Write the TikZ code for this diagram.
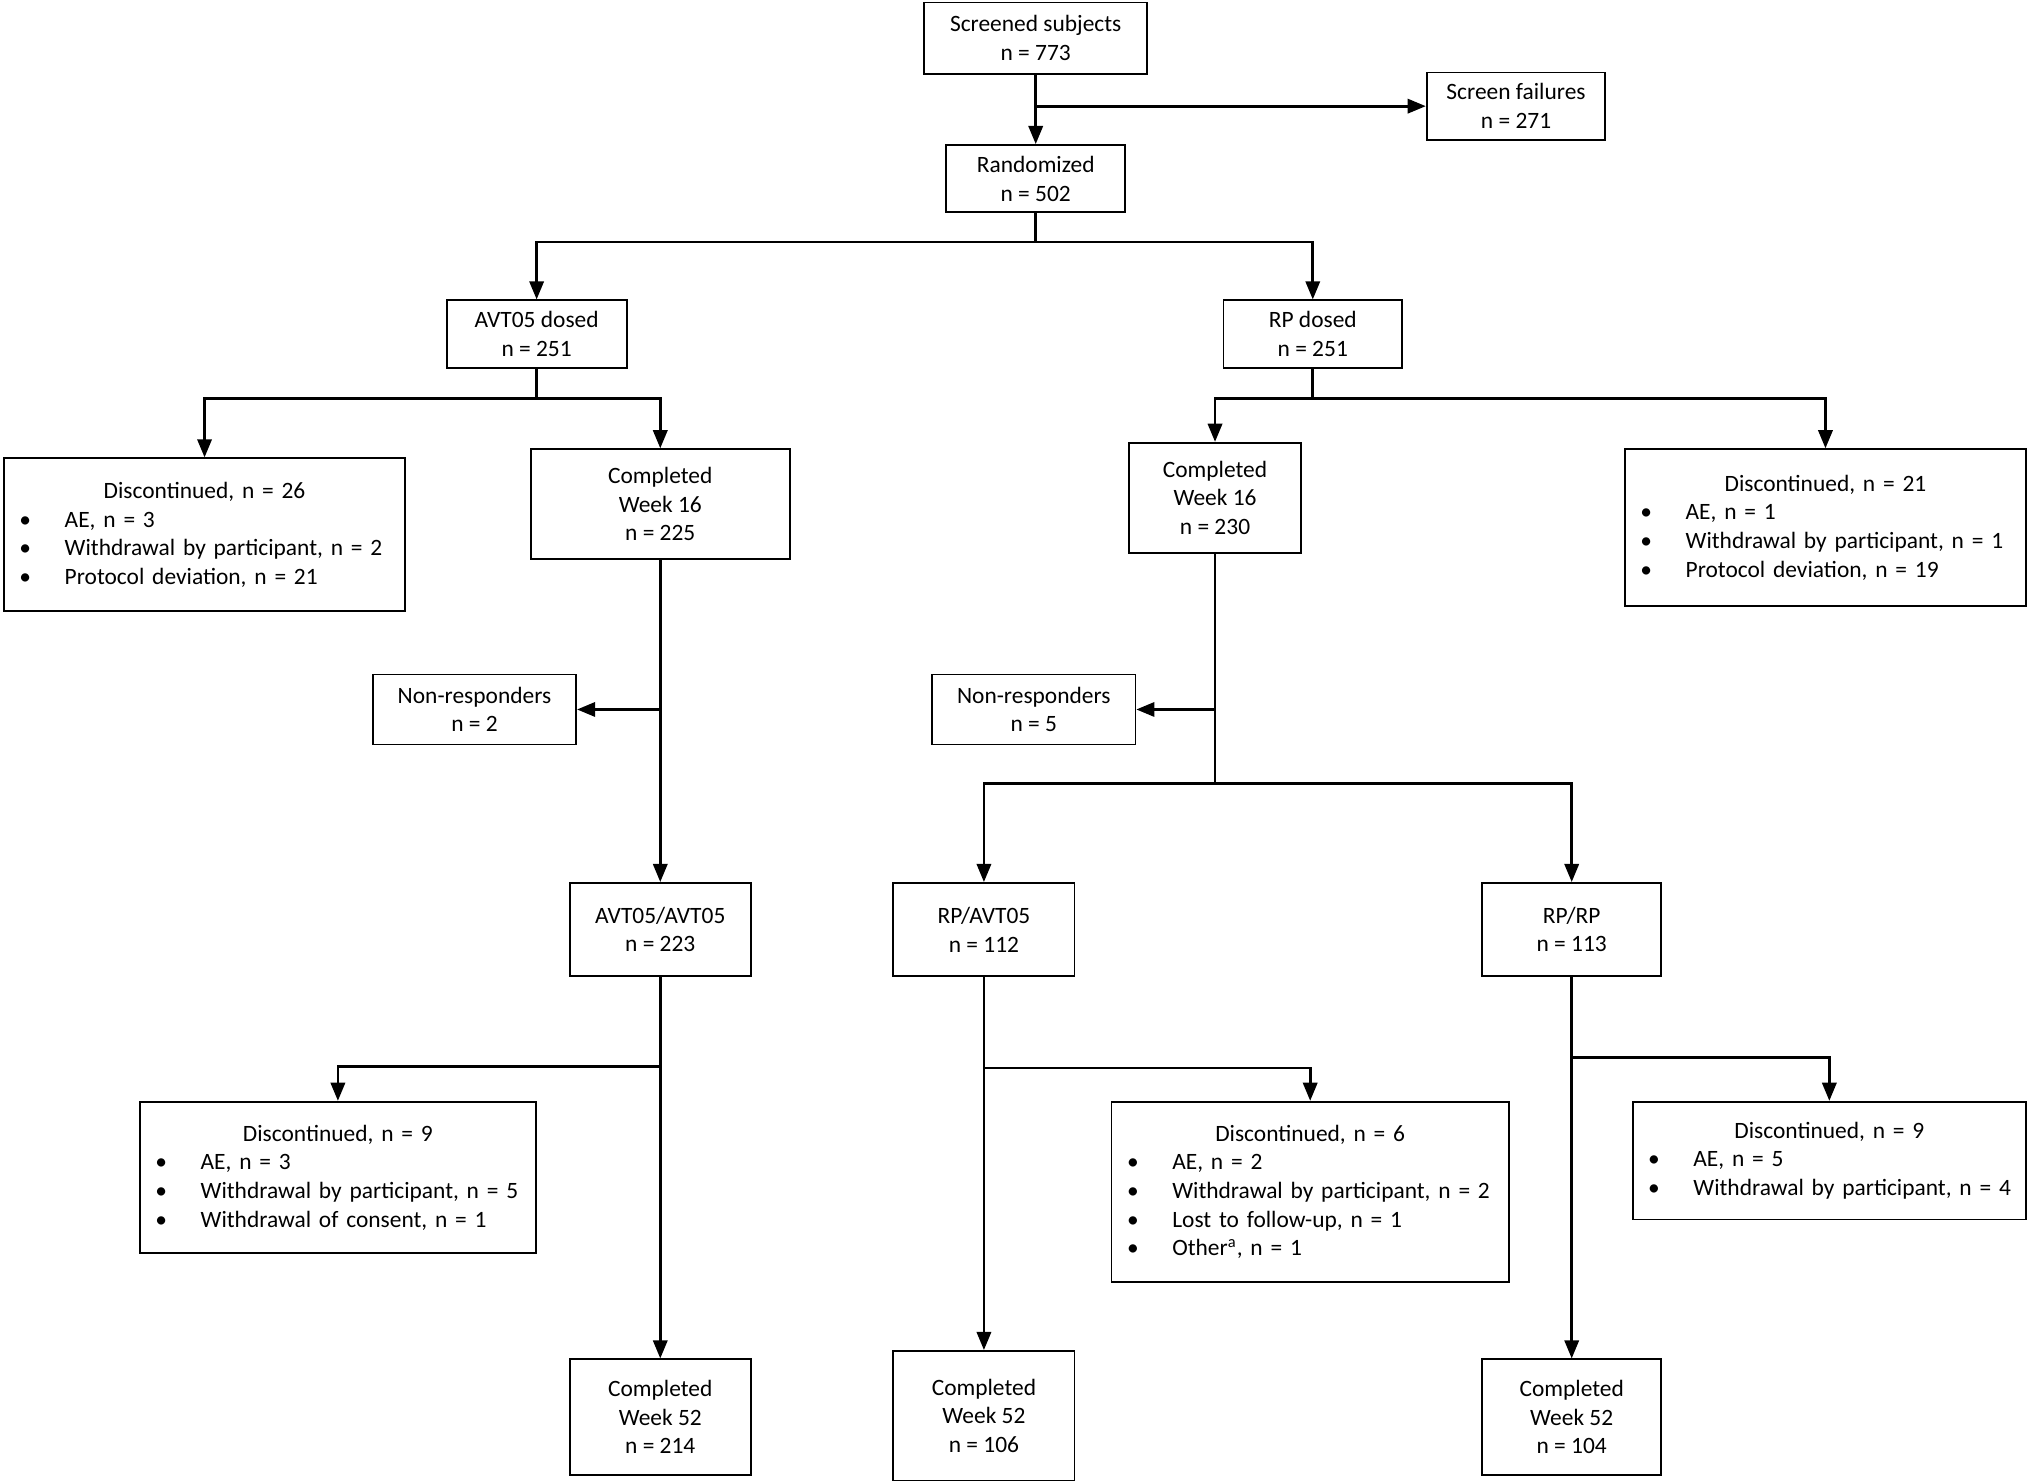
\documentclass[tikz,border=0pt]{standalone}
\usepackage{fontspec}
\setmainfont{Carlito}
\usetikzlibrary{arrows.meta,positioning}
\newcommand{\bitem}[1]{\\\makebox[\linewidth][l]{\hspace*{0.24cm}\makebox[0.70cm][l]{\textbullet}#1}}

\begin{document}
\begin{tikzpicture}[x=0.02cm, y=-0.02cm,
        font=\fontsize{10.3}{12.6}\selectfont,
        box/.style={draw, rectangle, line width=0.8pt, align=center, inner sep=0pt},
        sz/.style 2 args={minimum width=#1*0.02cm, minimum height=#2*0.02cm},
        flow/.style={line width=1.2pt, -{Triangle[length=0.28cm, width=0.22cm]}},
        link/.style={line width=1.2pt}]
        \useasboundingbox (0,0) rectangle (1568,1146);

        \node[box, sz={172}{55}] (screened) at (800,29.5) {Screened subjects\\n = 773};
        \node[box, sz={138}{52}] (fail) at (1171,82) {Screen failures\\n = 271};
        \node[box, sz={138}{52}] (rand) at (800,138) {Randomized\\n = 502};
        \node[box, sz={139}{52}] (avtdosed) at (414.5,258) {AVT05 dosed\\n = 251};
        \node[box, sz={138}{52}] (rpdosed) at (1014,258) {RP dosed\\n = 251};

        \node[box, sz={200}{85}] (wk16l) at (510,389.5) {Completed\\Week 16\\n = 225};
        \node[box, sz={133}{85}] (wk16r) at (938.5,384.5) {Completed\\Week 16\\n = 230};
        \node[box, text width=6.2cm, minimum height=118*0.02cm] (disc26) at (158,413)
            {Discontinued, n = 26\bitem{AE, n = 3}\bitem{Withdrawal by participant, n = 2}\bitem{Protocol deviation, n = 21}};
        \node[box, text width=6.2cm, minimum height=121*0.02cm] (disc21) at (1410,407.5)
            {Discontinued, n = 21\bitem{AE, n = 1}\bitem{Withdrawal by participant, n = 1}\bitem{Protocol deviation, n = 19}};

        \node[box, sz={157}{54}] (nonrl) at (366.5,548) {Non-responders\\n = 2};
        \node[box, sz={157}{54}] (nonrr) at (798.5,548) {Non-responders\\n = 5};

        \node[box, sz={140}{72}] (avtavt) at (510,718) {AVT05/AVT05\\n = 223};
        \node[box, sz={140}{72}] (rpavt) at (760,718) {RP/AVT05\\n = 112};
        \node[box, sz={138}{72}] (rprp) at (1214,718) {RP/RP\\n = 113};

        \node[box, text width=6.12cm, minimum height=117*0.02cm] (disc9l) at (261,909.5)
            {Discontinued, n = 9\bitem{AE, n = 3}\bitem{Withdrawal by participant, n = 5}\bitem{Withdrawal of consent, n = 1}};
        \node[box, text width=6.14cm, minimum height=139*0.02cm] (disc6) at (1012,920.5)
            {Discontinued, n = 6\bitem{AE, n = 2}\bitem{Withdrawal by participant, n = 2}\bitem{Lost to follow-up, n = 1}\bitem{Other\textsuperscript{a}, n = 1}};
        \node[box, text width=6.08cm, minimum height=91*0.02cm] (disc9r) at (1413,896.5)
            {Discontinued, n = 9\bitem{AE, n = 5}\bitem{Withdrawal by participant, n = 4}};

        \node[box, sz={140}{89}] (wk52l) at (510,1094.5) {Completed\\Week 52\\n = 214};
        \node[box, sz={140}{100}] (wk52m) at (760,1093.5) {Completed\\Week 52\\n = 106};
        \node[box, sz={138}{89}] (wk52r) at (1214,1094.5) {Completed\\Week 52\\n = 104};

        % screening and randomisation
        \draw[flow] (screened) -- (rand);
        \draw[flow] (screened.south |- fail.west) -- (fail.west);
        \coordinate (randsplit) at (800,187);
        \draw[link] (rand) -- (randsplit);
        \draw[flow] (randsplit) -| (avtdosed.north);
        \draw[flow] (randsplit) -| (rpdosed.north);

        % dosed arms to week 16
        \coordinate (avtsplit) at (414.5,308);
        \coordinate (rpsplit) at (1014,308);
        \draw[link] (avtdosed) -- (avtsplit);
        \draw[flow] (avtsplit) -| (disc26.north);
        \draw[flow] (avtsplit) -| (wk16l.north);
        \draw[link] (rpdosed) -- (rpsplit);
        \draw[flow] (rpsplit) -| (wk16r.north);
        \draw[flow] (rpsplit) -| (disc21.north);

        % week 16 to re-randomisation
        \draw[flow] (wk16l) -- (avtavt);
        \draw[flow] (wk16l.south |- nonrl.east) -- (nonrl.east);
        \coordinate (rerand) at (938.5,605);
        \draw[link] (wk16r) -- (rerand);
        \draw[flow] (wk16r.south |- nonrr.east) -- (nonrr.east);
        \draw[flow] (rerand) -| (rpavt.north);
        \draw[flow] (rerand) -| (rprp.north);

        % week 52
        \draw[flow] (avtavt) -- (wk52l);
        \draw[flow] (rpavt) -- (wk52m);
        \draw[flow] (rprp) -- (wk52r);
        \coordinate (avtavtsplit) at (510,824);
        \coordinate (rpavtsplit) at (760,825);
        \coordinate (rprpsplit) at (1214,817);
        \draw[flow] (avtavtsplit) -| (disc9l.north);
        \draw[flow] (rpavtsplit) -| (disc6.north);
        \draw[flow] (rprpsplit) -| (disc9r.north);
    \end{tikzpicture}
\end{document}
